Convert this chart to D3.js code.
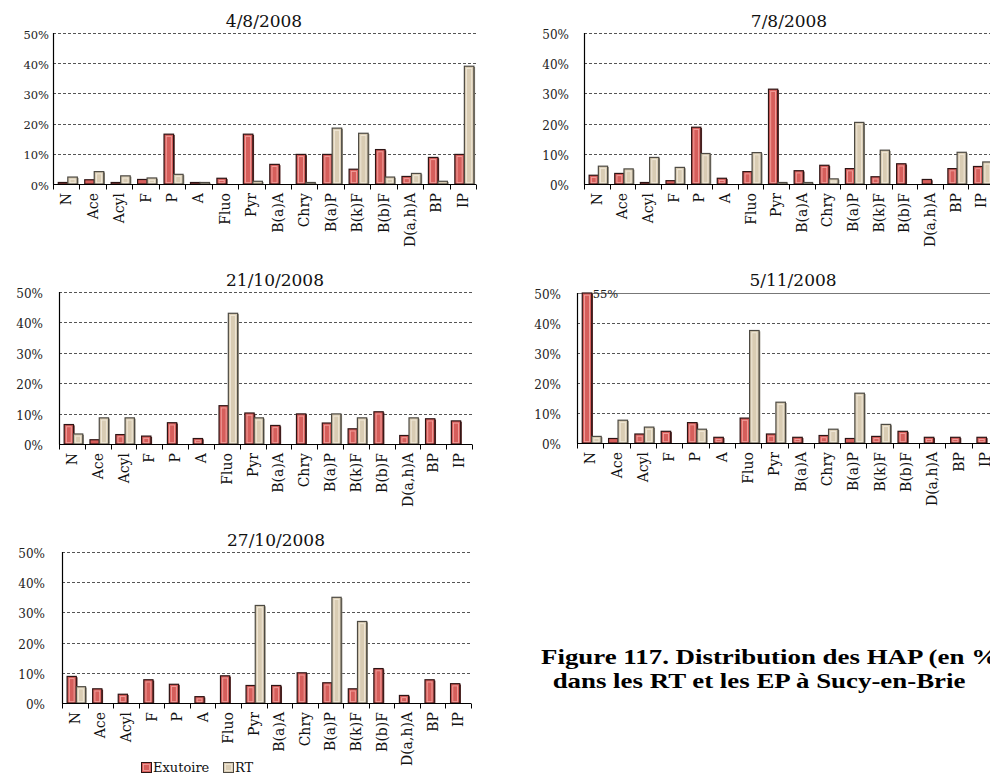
<!DOCTYPE html>
<html>
<head>
<meta charset="utf-8">
<script src="https://cdn.jsdelivr.net/npm/d3@7"></script>
<style>
  html, body { margin: 0; padding: 0; background: #fff; }
  svg { display: block; }
</style>
</head>
<body>
<svg id="chart" width="990" height="774"></svg>
<script>
// PAH compounds (x categories) and y-axis ticks (percent)
const categories = ["N", "Ace", "Acyl", "F", "P", "A", "Fluo", "Pyr", "B(a)A", "Chry", "B(a)P", "B(k)F", "B(b)F", "D(a,h)A", "BP", "IP"];
const yTicks = [0, 10, 20, 30, 40, 50];
const seriesNames = ["Exutoire", "RT"];

// Share of each PAH (%) per sampling date: outlet (Exutoire) and RT
const exu0408 = [0.5, 1.4, 0.4, 1.5, 16.5, 0.4, 1.9, 16.5, 6.5, 9.8, 9.8, 4.9, 11.4, 2.5, 8.8, 9.8];
const rt0408  = [2.3, 4.1, 2.7, 2.0, 3.2, 0.5, 0, 0.9, 0, 0.5, 18.5, 16.8, 2.3, 3.5, 0.9, 39.0];

const exu0708 = [2.9, 3.5, 0.4, 1.1, 18.8, 1.9, 4.1, 31.4, 4.4, 6.2, 5.1, 2.4, 6.7, 1.5, 5.1, 5.8];
const rt0708  = [5.9, 5.0, 8.8, 5.5, 10.1, 0, 10.4, 0.5, 0.2, 1.7, 20.4, 11.2, 0, 0, 10.5, 7.3];

const exu2110 = [6.4, 1.4, 3.1, 2.6, 7.0, 1.8, 12.6, 10.2, 6.1, 9.9, 6.9, 5.0, 10.6, 2.8, 8.3, 7.6];
const rt2110  = [3.3, 8.6, 8.6, 0, 0, 0, 43.0, 8.6, 0, 0, 9.9, 8.6, 0, 8.6, 0, 0];

const exu0511 = [55, 1.5, 3.0, 3.9, 6.8, 1.9, 8.3, 3.0, 1.9, 2.5, 1.5, 2.2, 3.9, 1.9, 1.9, 1.9];
const rt0511  = [2.2, 7.6, 5.3, 0, 4.6, 0, 37.5, 13.6, 0, 4.6, 16.6, 6.2, 0, 0, 0, 0];

const exu2710 = [8.8, 4.7, 2.9, 7.7, 6.2, 2.1, 9.0, 5.8, 5.8, 10.0, 6.7, 4.7, 11.4, 2.5, 7.7, 6.4];
const rt2710  = [5.4, 0, 0, 0, 0, 0, 0, 32.3, 0, 0, 35.0, 27.0, 0, 0, 0, 0];

// Panel layout
const panels = [
  { title: "4/8/2008",   exu: exu0408, rt: rt0408, x0: 53,  x1: 476, yTop: 33,  yBot: 184, tx: 264, ty: 27,  tickEnd: 49,  tickFont: 11.5 },
  { title: "7/8/2008",   exu: exu0708, rt: rt0708, x0: 584, x1: 994, yTop: 33,  yBot: 184, tx: 789, ty: 27,  tickEnd: 569, tickFont: 12 },
  { title: "21/10/2008", exu: exu2110, rt: rt2110, x0: 59,  x1: 472, yTop: 292, yBot: 444, tx: 275, ty: 286, tickEnd: 43,  tickFont: 12 },
  { title: "5/11/2008",  exu: exu0511, rt: rt0511, x0: 577, x1: 998, yTop: 293, yBot: 443, tx: 793, ty: 286, tickEnd: 561, tickFont: 12, valueLabel: 0 },
  { title: "27/10/2008", exu: exu2710, rt: rt2710, x0: 62,  x1: 471, yTop: 552, yBot: 703, tx: 276, ty: 546, tickEnd: 45,  tickFont: 12 }
];

const styles = {
  Exutoire: { fill: "#d65e5b", light: "#f3a4a0", edge: "#2e1414", shadow: "#5a2a28", offset: 0.2 },
  RT:       { fill: "#d9ccb3", light: "#f1e9da", edge: "#4d4a43", shadow: "#8a8477", offset: 0.56 }
};

const serif = "'DejaVu Serif', serif";
const svg = d3.select("#chart");

panels.forEach(p => {
  const x = d3.scaleBand().domain(categories).range([p.x0, p.x1]);
  const y = d3.scaleLinear().domain([0, 50]).range([p.yBot, p.yTop]).clamp(true);
  const g = svg.append("g");
  const crisp = v => Math.round(v) + 0.5;

  // Title
  g.append("text")
    .attr("x", p.tx).attr("y", p.ty)
    .attr("text-anchor", "middle")
    .attr("font-family", serif).attr("font-size", 17)
    .attr("fill", "#111")
    .text(p.title);

  // Horizontal gridlines
  g.selectAll("line.grid")
    .data(yTicks.filter(t => t > 0))
    .join("line")
    .attr("class", "grid")
    .attr("x1", p.x0).attr("x2", p.x1)
    .attr("y1", d => crisp(y(d))).attr("y2", d => crisp(y(d)))
    .attr("stroke", d => (p.valueLabel !== undefined && d === 50) ? "#777" : "#555")
    .attr("stroke-width", 1)
    .attr("stroke-dasharray", d => (p.valueLabel !== undefined && d === 50) ? null : "3,2");

  // Y axis labels
  const yAxis = d3.axisLeft(y).tickValues(yTicks).tickSize(0).tickFormat(d => d + "%");
  const ya = g.append("g")
    .attr("transform", `translate(${p.tickEnd},0)`)
    .call(yAxis);
  ya.select(".domain").remove();
  ya.selectAll("text")
    .attr("x", 0).attr("dy", "0.45em")
    .attr("font-family", serif).attr("font-size", p.tickFont)
    .attr("fill", "#222");

  // Bars
  const bw = x.bandwidth() * 0.36;
  [["Exutoire", p.exu], ["RT", p.rt]].forEach(([name, vals]) => {
    const st = styles[name];
    const data = categories.map((c, i) => ({ c, v: vals[i] })).filter(d => d.v > 0);
    const bg = g.append("g");
    const bx = d => x(d.c) + x.bandwidth() * st.offset;
    const bh = d => Math.max(1.5, y(0) - y(d.v));

    // dark shadow on the right
    bg.selectAll("rect.shadow").data(data).join("rect")
      .attr("class", "shadow")
      .attr("x", d => bx(d) + 1.2).attr("y", d => y(0) - bh(d) + 0.8)
      .attr("width", bw).attr("height", d => bh(d) - 0.8)
      .attr("fill", st.shadow);
    bg.selectAll("rect.bar").data(data).join("rect")
      .attr("class", "bar")
      .attr("x", bx).attr("y", d => y(0) - bh(d))
      .attr("width", bw).attr("height", bh)
      .attr("fill", st.fill)
      .attr("stroke", st.edge).attr("stroke-width", 1.2);
    // inner bevel highlight
    bg.selectAll("rect.hl").data(data.filter(d => bh(d) > 5)).join("rect")
      .attr("class", "hl")
      .attr("x", d => bx(d) + 2.2).attr("y", d => y(0) - bh(d) + 2.2)
      .attr("width", bw - 4.4).attr("height", d => bh(d) - 3.5)
      .attr("fill", "none")
      .attr("stroke", st.light).attr("stroke-width", 0.9);
  });

  // Value label for a bar exceeding the axis range
  if (p.valueLabel !== undefined) {
    const i = p.valueLabel;
    g.append("text")
      .attr("x", x(categories[i]) + x.bandwidth() * styles.Exutoire.offset + bw + 1)
      .attr("y", y(p.exu[i]) + 5)
      .attr("font-family", serif).attr("font-size", 11.5)
      .attr("fill", "#222")
      .text(p.exu[i] + "%");
  }

  // Axis lines
  g.append("line")
    .attr("x1", crisp(p.x0)).attr("x2", crisp(p.x0))
    .attr("y1", p.yTop).attr("y2", crisp(p.yBot))
    .attr("stroke", "#000").attr("stroke-width", 1.2);
  g.append("line")
    .attr("x1", p.x0).attr("x2", p.x1)
    .attr("y1", crisp(p.yBot)).attr("y2", crisp(p.yBot))
    .attr("stroke", "#000").attr("stroke-width", 1.2);

  // Category boundary ticks
  const bounds = categories.map(c => x(c)).concat([p.x1]);
  g.selectAll("line.ctick").data(bounds).join("line")
    .attr("class", "ctick")
    .attr("x1", d => crisp(d)).attr("x2", d => crisp(d))
    .attr("y1", crisp(p.yBot)).attr("y2", crisp(p.yBot) + 5)
    .attr("stroke", "#000").attr("stroke-width", 1);

  // Category labels (rotated)
  const xAxis = d3.axisBottom(x).tickSize(0);
  const xa = g.append("g")
    .attr("transform", `translate(0,${p.yBot})`)
    .call(xAxis);
  xa.select(".domain").remove();
  xa.selectAll("text")
    .attr("transform", "rotate(-90)")
    .attr("x", -9).attr("y", 0).attr("dy", "0.36em")
    .attr("text-anchor", "end")
    .attr("font-family", serif).attr("font-size", 14)
    .attr("fill", "#111");
});

// Legend
const legend = svg.append("g").attr("transform", "translate(141,762)");
const legendX = [0, 82];
seriesNames.forEach((name, i) => {
  const st = styles[name];
  const lg = legend.append("g").attr("transform", `translate(${legendX[i]},0)`);
  lg.append("rect").attr("x", 0.5).attr("y", 0.5).attr("width", 10).attr("height", 10)
    .attr("fill", st.fill).attr("stroke", st.edge).attr("stroke-width", 1);
  lg.append("rect").attr("x", 2.5).attr("y", 2.5).attr("width", 6).attr("height", 6)
    .attr("fill", "none").attr("stroke", st.light).attr("stroke-width", 0.8);
  lg.append("text").attr("x", 12).attr("y", 9.5)
    .attr("font-family", serif).attr("font-size", 13)
    .attr("fill", "#111").text(name);
});

// Figure caption (first line runs past the right edge)
const captionFont = "'Liberation Serif', 'Times New Roman', serif";
const cap1 = svg.append("g").attr("transform", "translate(541,664) scale(1.25,1)");
cap1.append("text")
  .attr("x", 0).attr("y", 0)
  .attr("font-family", captionFont)
  .attr("font-weight", "bold").attr("font-size", 21.5)
  .attr("fill", "#000")
  .text("Figure 117. Distribution des HAP (en %)");
const cap2 = svg.append("g").attr("transform", "translate(759,688) scale(1.25,1)");
cap2.append("text")
  .attr("x", 0).attr("y", 0)
  .attr("text-anchor", "middle")
  .attr("font-family", captionFont)
  .attr("font-weight", "bold").attr("font-size", 21.5)
  .attr("fill", "#000")
  .text("dans les RT et les EP à Sucy-en-Brie");
</script>
</body>
</html>
